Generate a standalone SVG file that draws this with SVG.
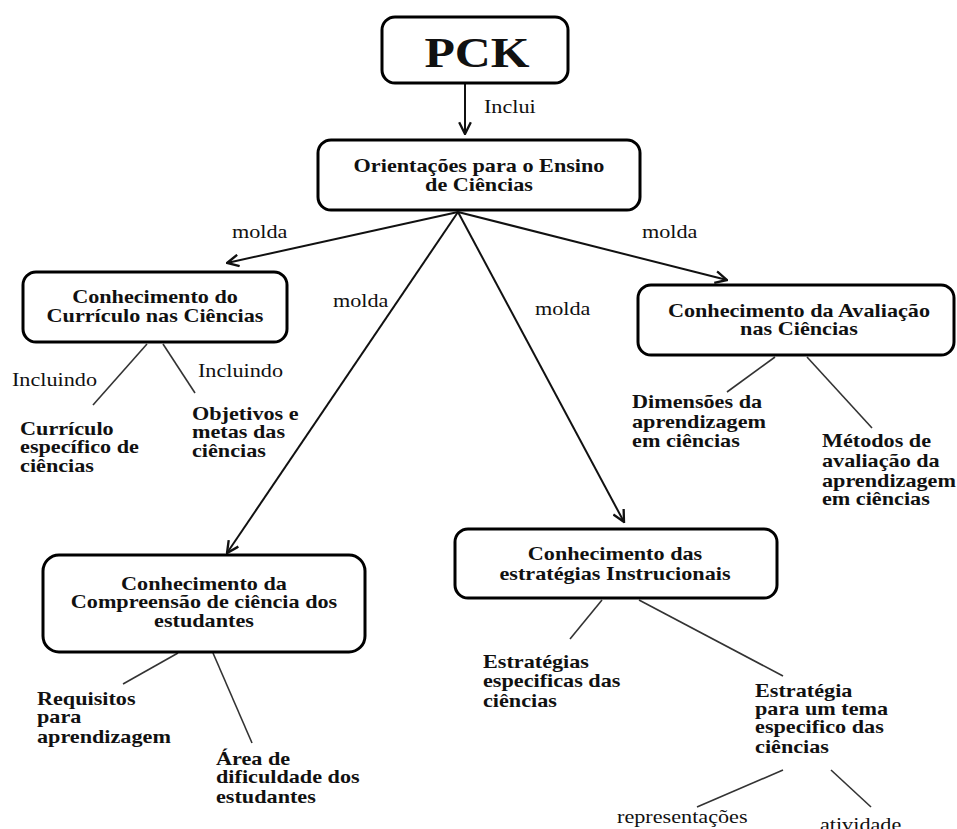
<svg xmlns="http://www.w3.org/2000/svg" width="957" height="829" viewBox="0 0 957 829">
<defs>
<marker id="arr" markerUnits="userSpaceOnUse" markerWidth="14" markerHeight="14" viewBox="0 0 12 12" refX="11" refY="6" orient="auto">
<path d="M1,1 L11,6 L1,11" fill="none" stroke="#111" stroke-width="2"/>
</marker>
<style>
.box{fill:#fff;stroke:#000;stroke-width:3}
.t{font-family:"Liberation Serif","Times New Roman",serif;font-size:18.5px;fill:#111}
.b{font-weight:bold}
.c{text-anchor:middle}
.arrow{stroke:#111;stroke-width:2;fill:none;marker-end:url(#arr)}
.br{stroke:#333;stroke-width:1.6;fill:none}
</style>
</defs>
<rect width="957" height="829" fill="#fff"/>
<g id="connectors">
<line class="arrow" x1="465" y1="84" x2="465" y2="134"/>
<line class="arrow" x1="458" y1="212" x2="227" y2="263"/>
<line class="arrow" x1="458" y1="212" x2="227" y2="553"/>
<line class="arrow" x1="458" y1="212" x2="727" y2="280"/>
<line class="arrow" x1="458" y1="212" x2="624" y2="522"/>
<line class="br" x1="147" y1="344" x2="93" y2="405"/>
<line class="br" x1="163" y1="344" x2="195" y2="393"/>
<line class="br" x1="775" y1="357" x2="727" y2="392"/>
<line class="br" x1="807" y1="357" x2="872" y2="428"/>
<line class="br" x1="178" y1="653" x2="123" y2="684"/>
<line class="br" x1="213" y1="653" x2="252" y2="743"/>
<line class="br" x1="602" y1="600" x2="570" y2="639"/>
<line class="br" x1="639" y1="600" x2="783" y2="676"/>
<line class="br" x1="783" y1="770" x2="697" y2="807"/>
<line class="br" x1="831" y1="770" x2="871" y2="807"/>
<text class="t" transform="scale(1.2,1)" x="403.3" y="113">Inclui</text>
<text class="t" transform="scale(1.2,1)" x="193.3" y="238">molda</text>
<text class="t" transform="scale(1.2,1)" x="277.5" y="307">molda</text>
<text class="t" transform="scale(1.2,1)" x="445.8" y="315">molda</text>
<text class="t" transform="scale(1.2,1)" x="535" y="238">molda</text>
<text class="t" transform="scale(1.2,1)" x="10" y="386">Incluindo</text>
<text class="t" transform="scale(1.2,1)" x="165" y="377">Incluindo</text>
</g>
<g id="n-pck">
<rect class="box" x="382" y="17" width="186" height="66" rx="13"/>
<text class="t b c" transform="scale(1.2,1)" x="397.5" y="67" style="font-size:41.5px">PCK</text>
</g>
<g id="n-orientacoes">
<rect class="box" x="318" y="140" width="322" height="70" rx="13"/>
<text class="t b c" transform="scale(1.2,1)"><tspan x="399.2" y="172">Orientações para o Ensino</tspan><tspan x="399.2" y="191">de Ciências</tspan></text>
</g>
<g id="n-curriculo">
<rect class="box" x="23" y="272" width="264" height="70" rx="13"/>
<text class="t b c" transform="scale(1.2,1)"><tspan x="129.2" y="303">Conhecimento do</tspan><tspan x="129.2" y="322">Currículo nas Ciências</tspan></text>
</g>
<g id="n-curriculo-especifico">
<text class="t b" transform="scale(1.2,1)"><tspan x="16.7" y="435">Currículo</tspan><tspan x="16.7" y="453">específico de</tspan><tspan x="16.7" y="472">ciências</tspan></text>
</g>
<g id="n-objetivos">
<text class="t b" transform="scale(1.2,1)"><tspan x="160" y="420">Objetivos e</tspan><tspan x="160" y="438">metas das</tspan><tspan x="160" y="457">ciências</tspan></text>
</g>
<g id="n-avaliacao">
<rect class="box" x="638" y="285" width="316" height="70" rx="13"/>
<text class="t b c" transform="scale(1.2,1)"><tspan x="665.8" y="317">Conhecimento da Avaliação</tspan><tspan x="665.8" y="335">nas Ciências</tspan></text>
</g>
<g id="n-dimensoes">
<text class="t b" transform="scale(1.2,1)"><tspan x="526.7" y="408">Dimensões da</tspan><tspan x="526.7" y="428">aprendizagem</tspan><tspan x="526.7" y="447">em ciências</tspan></text>
</g>
<g id="n-metodos">
<text class="t b" transform="scale(1.2,1)"><tspan x="685" y="447">Métodos de</tspan><tspan x="685" y="467">avaliação da</tspan><tspan x="685" y="487">aprendizagem</tspan><tspan x="685" y="505">em ciências</tspan></text>
</g>
<g id="n-compreensao">
<rect class="box" x="43" y="555" width="322" height="97" rx="16"/>
<text class="t b c" transform="scale(1.2,1)"><tspan x="170" y="590">Conhecimento da</tspan><tspan x="170" y="608">Compreensão de ciência dos</tspan><tspan x="170" y="627">estudantes</tspan></text>
</g>
<g id="n-requisitos">
<text class="t b" transform="scale(1.2,1)"><tspan x="30.8" y="705">Requisitos</tspan><tspan x="30.8" y="723">para</tspan><tspan x="30.8" y="743">aprendizagem</tspan></text>
</g>
<g id="n-area">
<text class="t b" transform="scale(1.2,1)"><tspan x="180" y="765">Área de</tspan><tspan x="180" y="783">dificuldade dos</tspan><tspan x="180" y="803">estudantes</tspan></text>
</g>
<g id="n-estrategias">
<rect class="box" x="455" y="529" width="322" height="69" rx="13"/>
<text class="t b c" transform="scale(1.2,1)"><tspan x="512.5" y="560">Conhecimento das</tspan><tspan x="512.5" y="580">estratégias Instrucionais</tspan></text>
</g>
<g id="n-estrategias-especificas">
<text class="t b" transform="scale(1.2,1)"><tspan x="402.5" y="668">Estratégias</tspan><tspan x="402.5" y="687">especificas das</tspan><tspan x="402.5" y="707">ciências</tspan></text>
</g>
<g id="n-estrategia-tema">
<text class="t b" transform="scale(1.2,1)"><tspan x="629.2" y="697">Estratégia</tspan><tspan x="629.2" y="715">para um tema</tspan><tspan x="629.2" y="733">especifico das</tspan><tspan x="629.2" y="753">ciências</tspan></text>
</g>
<g id="n-representacoes">
<text class="t" transform="scale(1.2,1)" x="514.2" y="823">representações</text>
</g>
<g id="n-atividade">
<text class="t" transform="scale(1.2,1)" x="683.3" y="831">atividade</text>
</g>
</svg>
